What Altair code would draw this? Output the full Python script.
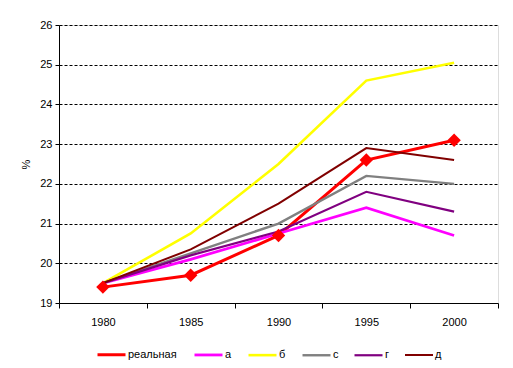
import altair as alt
import pandas as pd

years = [1980, 1985, 1990, 1995, 2000]
series_names = ["реальная", "а", "б", "с", "г", "д"]
real = [19.4, 19.7, 20.7, 22.6, 23.1]
a = [19.5, 20.1, 20.75, 21.4, 20.7]
b = [19.5, 20.75, 22.5, 24.6, 25.05]
c = [19.5, 20.25, 21.0, 22.2, 22.0]
g = [19.5, 20.2, 20.8, 21.8, 21.3]
d = [19.5, 20.35, 21.5, 22.9, 22.6]
colors = ["#FF0000", "#FF00FF", "#FFFF00", "#808080", "#800080", "#800000"]
widths = [3, 2, 2, 2, 2, 2]

rows = []
for name, vals in zip(series_names, [real, a, b, c, g, d]):
    for yr, v in zip(years, vals):
        rows.append({"year": yr, "value": v, "series": name})
df = pd.DataFrame(rows)

# draw order: scenarios first, real on top
order_map = {n: (10 if n == "реальная" else i) for i, n in enumerate(series_names)}
df["ord"] = df["series"].map(order_map)

FONT = "Liberation Sans"

x = alt.X("year:O", title=None,
          scale=alt.Scale(type="band", paddingInner=0, paddingOuter=0),
          axis=alt.Axis(labelAngle=0, tickBand="extent", domainColor="black",
                        tickColor="black", tickSize=5, labelPadding=8,
                        labelFont=FONT, labelFontSize=11, labelColor="black",
                        grid=False))
y = alt.Y("value:Q", title="%",
          scale=alt.Scale(domain=[19, 26], nice=False, zero=False),
          axis=alt.Axis(values=[19, 20, 21, 22, 23, 24, 25, 26],
                        domainColor="black", tickColor="black", tickSize=4,
                        labelPadding=3, labelFont=FONT, labelFontSize=11,
                        labelColor="black", titleFont=FONT, titleFontSize=11,
                        titleFontWeight="normal", titleColor="black",
                        titlePadding=8, grid=True, gridColor="black",
                        gridDash=[3, 2], gridWidth=1))

def make_legend():
    return alt.Legend(orient="none", direction="horizontal", legendX=37,
                      legendY=314, symbolType="stroke", symbolSize=784,
                      labelFont=FONT, labelFontSize=11, labelColor="black",
                      columnPadding=11, labelOffset=1)

color = alt.Color("series:N", title=None,
                  scale=alt.Scale(domain=series_names, range=colors),
                  legend=make_legend())
sw = alt.StrokeWidth("series:N", title=None,
                     scale=alt.Scale(domain=series_names, range=widths),
                     legend=make_legend())

lines = alt.Chart(df).mark_line().encode(
    x=x, y=y, color=color, strokeWidth=sw,
    detail="series:N", order=alt.Order("ord:Q"))

points = alt.Chart(df[df["series"] == "реальная"]).mark_point(
    shape="diamond", filled=True, size=180, opacity=1, color="#FF0000"
).encode(x=x, y=y)

chart = alt.layer(lines, points).properties(
    width=439, height=278,
    padding={"left": 12, "top": 11, "right": 5, "bottom": 5},
).configure_view(stroke="black", strokeWidth=1).configure(background="white")

chart.save("out.html", embed_options={"renderer": "svg", "actions": False})
